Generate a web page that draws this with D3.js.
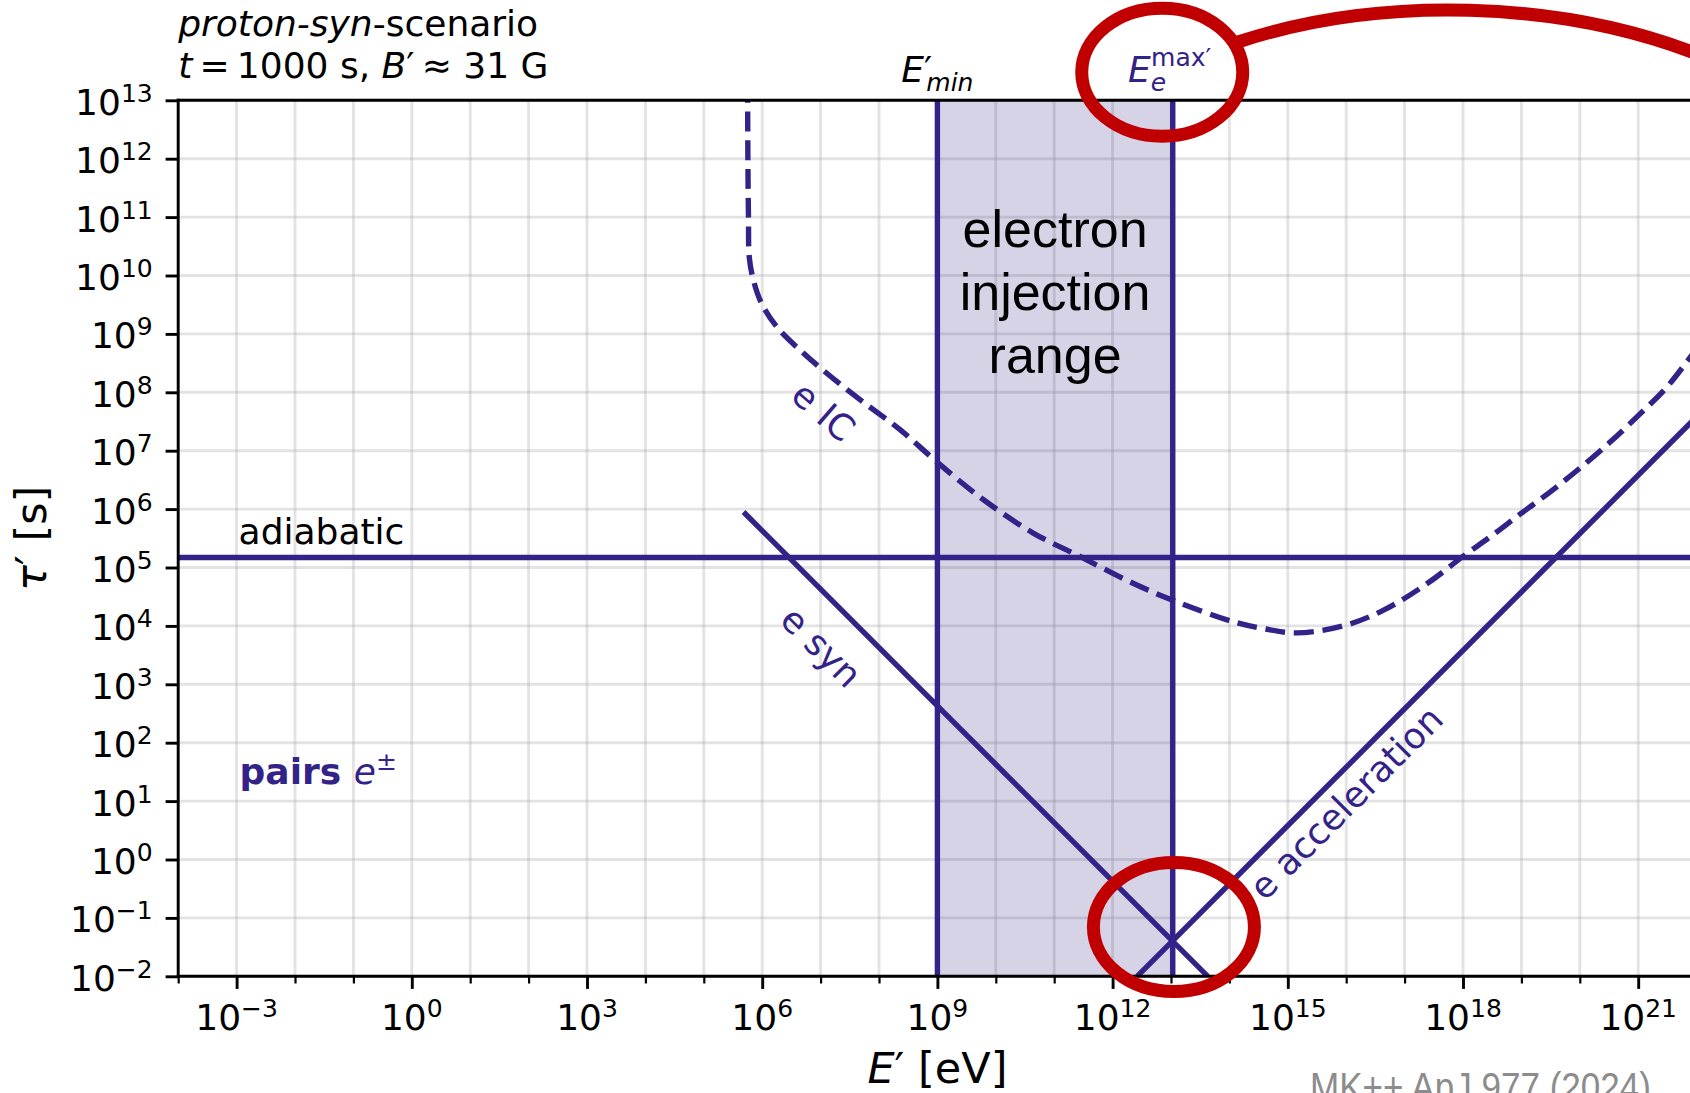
<!DOCTYPE html>
<html>
<head>
<meta charset="utf-8">
<script src="https://cdn.jsdelivr.net/npm/d3@7"></script>
<style>
  html, body { margin: 0; padding: 0; background: #fff; overflow: hidden; }
  svg { display: block; }
  text { font-family: "DejaVu Sans", sans-serif; }
</style>
</head>
<body>
<div id="chart"></div>
<script>
// --- data (log10 values) ---
const xExponents = d3.range(-4, 23);          // E' decades 1e-4 .. 1e22
const yExponents = d3.range(-2, 14);          // tau' decades 1e-2 .. 1e13
const xLabelExponents = xExponents.filter(k => k % 3 === 0);

const logTauAdiabatic = 5.17;
const eMinExp = 9;
const eMaxExp = 13.03;

const synLogE = [5.68, 13.63];
const synLogTau = [5.95, -2.0];

const accLogE = [12.42, 22.0];
const accLogTau = [-2.0, 7.58];

const icLogE   = [5.75, 5.755, 5.765, 5.78, 5.85, 5.99, 6.25, 6.65, 7.1, 7.68, 8.36, 9.0, 9.79, 10.64, 11.44, 12.35, 13.03, 14.07, 14.6, 15.15, 15.95, 16.64, 17.38, 18.0, 18.5, 19.0, 19.5, 20.0, 20.5, 21.0, 21.5, 22.0];
const icLogTau = [13.3, 12.0, 11.0, 10.3, 9.92, 9.52, 9.12, 8.72, 8.33, 7.87, 7.36, 6.8, 6.16, 5.59, 5.19, 4.73, 4.44, 4.07, 3.95, 3.88, 4.0, 4.27, 4.72, 5.19, 5.55, 5.93, 6.3, 6.7, 7.13, 7.6, 8.1, 8.75];

// --- layout ---
const W = 1690, H = 1093;
const plotLeft = 178.2, plotTop = 100.3, dec = 58.4;
const indigo = '#332288';
const lw = 5.4;

const x = d3.scaleLog().domain([1e-4, 1e22]).range([plotLeft, plotLeft + 26 * dec]);
const y = d3.scaleLog().domain([1e-2, 1e13]).range([plotTop + 15 * dec, plotTop]);
const [x0, x1] = x.range();
const [y0, y1] = y.range();

const svg = d3.select('#chart').append('svg')
    .attr('width', W)
    .attr('height', H);

svg.append('defs').append('clipPath')
    .attr('id', 'plot')
  .append('rect')
    .attr('x', x0).attr('y', y1)
    .attr('width', x1 - x0).attr('height', y0 - y1);

const sup = k => (k < 0 ? '\u2212' + (-k) : String(k));

// grid
const grid = svg.append('g').attr('stroke', '#b0b0b0').attr('stroke-opacity', 0.35).attr('stroke-width', 2.9);
grid.selectAll('.gx').data(xExponents).join('line')
    .attr('x1', k => x(10 ** k)).attr('x2', k => x(10 ** k))
    .attr('y1', y1).attr('y2', y0);
grid.selectAll('.gy').data(yExponents).join('line')
    .attr('y1', k => y(10 ** k)).attr('y2', k => y(10 ** k))
    .attr('x1', x0).attr('x2', x1);

const plot = svg.append('g').attr('clip-path', 'url(#plot)');

// electron injection band
plot.append('rect')
    .attr('x', x(10 ** eMinExp))
    .attr('y', y1)
    .attr('width', x(10 ** eMaxExp) - x(10 ** eMinExp))
    .attr('height', y0 - y1)
    .attr('fill', indigo)
    .attr('fill-opacity', 0.2);

const line = d3.line()
    .x(d => x(10 ** d[0]))
    .y(d => y(10 ** d[1]));

const zip = (a, b) => a.map((v, i) => [v, b[i]]);

plot.append('path')
    .datum(zip(icLogE, icLogTau))
    .attr('d', line.curve(d3.curveCatmullRom))
    .attr('fill', 'none')
    .attr('stroke', indigo)
    .attr('stroke-width', lw)
    .attr('stroke-dasharray', '20,8.7');

line.curve(d3.curveLinear);
[[synLogE, synLogTau], [accLogE, accLogTau]].forEach(([e, t]) => {
  plot.append('path')
      .datum(zip(e, t))
      .attr('d', line)
      .attr('fill', 'none')
      .attr('stroke', indigo)
      .attr('stroke-width', lw);
});

plot.append('line')
    .attr('x1', x0).attr('x2', x1)
    .attr('y1', y(10 ** logTauAdiabatic)).attr('y2', y(10 ** logTauAdiabatic))
    .attr('stroke', indigo).attr('stroke-width', lw);

[eMinExp, eMaxExp].forEach(k => {
  plot.append('line')
      .attr('x1', x(10 ** k)).attr('x2', x(10 ** k))
      .attr('y1', y1).attr('y2', y0)
      .attr('stroke', indigo).attr('stroke-width', lw);
});

// in-plot labels
svg.append('text')
    .attr('x', x(1e-3) + 2).attr('y', y(10 ** logTauAdiabatic) - 14)
    .attr('font-size', 36)
    .text('adiabatic');

const pairs = svg.append('text')
    .attr('x', x(1e-3) + 3).attr('y', y(10 ** 1.3))
    .attr('font-size', 36)
    .attr('fill', indigo);
pairs.append('tspan').attr('font-weight', 'bold').text('pairs ');
pairs.append('tspan').attr('font-style', 'italic').text('e');
pairs.append('tspan').attr('font-size', 25).attr('dy', -14).text('\u00b1');

const curveLabels = [
  { text: 'e IC', e: 7.05, t: 7.67, angle: 41 },
  { text: 'e syn', e: 7.01, t: 3.64, angle: 45 },
  { text: 'e acceleration', e: 16.0, t: 0.97, angle: -45 }
];
svg.selectAll('.clab').data(curveLabels).join('text')
    .attr('transform', d => `translate(${x(10 ** d.e)},${y(10 ** d.t)}) rotate(${d.angle})`)
    .attr('text-anchor', 'middle')
    .attr('dy', '0.35em')
    .attr('font-size', 36)
    .attr('fill', indigo)
    .text(d => d.text);

const band = svg.append('text')
    .attr('font-size', 52)
    .attr('text-anchor', 'middle')
    .style('font-family', '"Liberation Sans", Arial, sans-serif');
['electron', 'injection', 'range'].forEach((s, i) => {
  band.append('tspan')
      .attr('x', (x(10 ** eMinExp) + x(10 ** eMaxExp)) / 2)
      .attr('y', y(10 ** 10.49) + i * 63.3)
      .text(s);
});

// axes ticks
const minorVals = xExponents.filter(k => k % 3 !== 0).map(k => 10 ** k);
const majorVals = xLabelExponents.map(k => 10 ** k);

svg.append('g')
    .attr('transform', `translate(0,${y0})`)
    .call(d3.axisBottom(x).tickValues(minorVals).tickSize(7.2).tickFormat(''))
    .call(g => g.select('.domain').remove())
    .call(g => g.selectAll('line').attr('stroke-width', 2.2));

svg.append('g')
    .attr('transform', `translate(0,${y0})`)
    .call(d3.axisBottom(x).tickValues(majorVals).tickSize(12.6).tickFormat(''))
    .call(g => g.select('.domain').remove())
    .call(g => g.selectAll('line').attr('stroke-width', 2.9));

svg.append('g')
    .attr('transform', `translate(${x0},0)`)
    .call(d3.axisLeft(y).tickValues(yExponents.map(k => 10 ** k)).tickSize(12.6).tickFormat(''))
    .call(g => g.select('.domain').remove())
    .call(g => g.selectAll('line').attr('stroke-width', 2.9));

// spines
const spines = svg.append('g').attr('stroke', '#000').attr('stroke-width', 2.9).attr('stroke-linecap', 'square');
spines.append('line').attr('x1', x0).attr('x2', x1).attr('y1', y0).attr('y2', y0);
spines.append('line').attr('x1', x0).attr('x2', x1).attr('y1', y1).attr('y2', y1);
spines.append('line').attr('x1', x0).attr('x2', x0).attr('y1', y1).attr('y2', y0);
spines.append('line').attr('x1', x1).attr('x2', x1).attr('y1', y1).attr('y2', y0);

// tick labels
const xl = svg.append('g').selectAll('text').data(xLabelExponents).join('text')
    .attr('x', k => x(10 ** k))
    .attr('y', y0 + 54)
    .attr('text-anchor', 'middle')
    .attr('font-size', 36);
xl.append('tspan').text('10');
xl.append('tspan').attr('font-size', 25).attr('dy', -13).text(k => sup(k));

const yl = svg.append('g').selectAll('text').data(yExponents).join('text')
    .attr('x', x0 - 25.5)
    .attr('y', k => y(10 ** k) + 14.5)
    .attr('text-anchor', 'end')
    .attr('font-size', 36);
yl.append('tspan').text('10');
yl.append('tspan').attr('font-size', 25).attr('dy', -13).text(k => sup(k));

// axis labels
const xlab = svg.append('text')
    .attr('x', (x0 + x1) / 2).attr('y', 1083)
    .attr('text-anchor', 'middle')
    .attr('font-size', 43);
xlab.append('tspan').attr('font-style', 'italic').text('E');
xlab.append('tspan').text('\u2032 [eV]');

const ylab = svg.append('text')
    .attr('transform', `translate(46,${(y0 + y1) / 2}) rotate(-90)`)
    .attr('text-anchor', 'middle')
    .attr('font-size', 43);
ylab.append('tspan').attr('font-style', 'italic').text('\u03c4');
ylab.append('tspan').text('\u2032 [s]');

// title
const t1 = svg.append('text').attr('x', x0).attr('y', 36).attr('font-size', 36);
t1.append('tspan').attr('font-style', 'italic').text('proton-syn');
t1.append('tspan').text('-scenario');
const t2 = svg.append('text').attr('x', x0).attr('y', 77.5).attr('font-size', 36);
t2.append('tspan').attr('font-style', 'italic').text('t');
t2.append('tspan').text('\u2009=\u20091000 s, ');
t2.append('tspan').attr('font-style', 'italic').text('B');
t2.append('tspan').text('\u2032\u2009\u2248 31 G');

// energy markers above the frame
const eMinLab = svg.append('text').attr('y', plotTop - 18.3).attr('font-size', 36);
eMinLab.append('tspan').attr('font-style', 'italic').text('E');
eMinLab.append('tspan').text('\u2032');
eMinLab.append('tspan').attr('font-style', 'italic').attr('font-size', 25).attr('dx', -6).attr('dy', 9).text('min');
eMinLab.attr('x', x(10 ** eMinExp) - eMinLab.node().getBBox().width / 2);

const eMaxLab = svg.append('text').attr('y', plotTop - 18.3).attr('font-size', 36).attr('fill', indigo);
eMaxLab.append('tspan').attr('font-style', 'italic').text('E');
eMaxLab.append('tspan').attr('font-style', 'italic').attr('font-size', 25).attr('dy', 9).text('e');
eMaxLab.append('tspan').attr('font-size', 25).attr('dx', -15).attr('dy', -25).text('max\u2032');
eMaxLab.attr('x', x(10 ** eMaxExp) - 3 - eMaxLab.node().getBBox().width / 2);

// red highlight annotations
const red = '#c00000';
const marks = svg.append('g').attr('fill', 'none').attr('stroke', red).attr('stroke-width', 13);
marks.append('ellipse')
    .attr('cx', x(10 ** 12.85)).attr('cy', y(10 ** 13.48))
    .attr('rx', 80.5).attr('ry', 64);
marks.append('ellipse')
    .attr('cx', x(10 ** 13.05)).attr('cy', y(10 ** -1.155))
    .attr('rx', 80.5).attr('ry', 64.5);
const p = [[14.147, 13.998], [16.577, 14.803], [19.66, 14.717], [22.056, 13.776]].map(([e, t]) => [x(10 ** e), y(10 ** t)]);
marks.append('path')
    .attr('d', `M${p[0]}C${p[1]} ${p[2]} ${p[3]}`);

// source note (cut off at the bottom edge)
svg.append('text')
    .attr('x', 1310).attr('y', 1101)
    .attr('font-size', 40)
    .attr('fill', '#8c8c8c')
    .attr('textLength', 341)
    .attr('lengthAdjust', 'spacingAndGlyphs')
    .style('font-family', '"Liberation Sans Narrow", "Liberation Sans", sans-serif')
    .text('MK++ ApJ 977 (2024)');
</script>
</body>
</html>
